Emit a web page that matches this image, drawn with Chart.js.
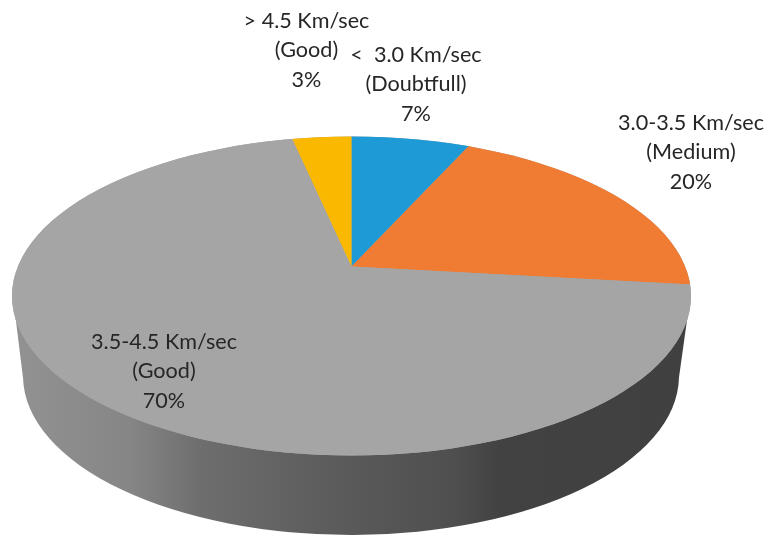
<!DOCTYPE html>
<html><head><meta charset="utf-8">
<style>html,body{margin:0;padding:0;background:#fff}#w{width:769px;height:536px;position:relative}</style>
<script src="https://cdn.jsdelivr.net/npm/chart.js@4/dist/chart.umd.min.js"></script>
</head><body><div id="w"><canvas id="c" width="769" height="536"></canvas></div>
<script>
const categories = ["< 3.0 Km/sec (Doubtfull)", "3.0-3.5 Km/sec (Medium)", "3.5-4.5 Km/sec (Good)", "> 4.5 Km/sec (Good)"];
const values = [6.8, 20, 69.8, 3.4];
const sliceColors = ["#1e9bd7", "#f07b32", "#a5a5a5", "#fbb800"];
const labelLines = [
  ["<  3.0 Km/sec", "(Doubtfull)", "7%"],
  ["3.0-3.5 Km/sec", "(Medium)", "20%"],
  ["3.5-4.5 Km/sec", "(Good)", "70%"],
  ["> 4.5 Km/sec", "(Good)", "3%"]
];
const labelCentres = [[416,55],[691,123],[164,342],[306.5,21]];
const wallStops = [[0,"#929292"],[0.17,"#858685"],[0.276,"#6e6e6e"],[0.48,"#5b5b5b"],[0.65,"#4f4f4f"],[0.72,"#424242"],[1,"#404040"]];
const topFace = {cx:351.5, cy:296, rx:339.5, ry:159.5};
const apex = {x:351.5, y:266.5};
const squash = 0.468, stretch = 2.1;

function topPath(ctx){ctx.beginPath();ctx.ellipse(topFace.cx,topFace.cy,topFace.rx,topFace.ry,0,0,Math.PI*2);}

const pie3d = {
  id:'pie3d',
  beforeDatasetsDraw(chart){
    const ctx=chart.ctx;
    ctx.save();
    const g=ctx.createLinearGradient(14,0,689,0);
    wallStops.forEach(s=>g.addColorStop(s[0],s[1]));
    ctx.fillStyle=g;
    ctx.beginPath();
    ctx.moveTo(15,313);
    ctx.lineTo(23,378);
    ctx.ellipse(351,376,328,159,0,Math.PI-0.01,0.01,true);
    ctx.lineTo(688,313);
    ctx.closePath();
    ctx.fill();
    topPath(ctx);
    ctx.fillStyle=sliceColors[2];
    ctx.fill();
    ctx.restore();
    const a=chart.getDatasetMeta(0).data[0];
    ctx.save();
    topPath(ctx);
    ctx.clip();
    ctx.translate(apex.x,apex.y);
    ctx.scale(stretch,stretch*squash);
    ctx.translate(-a.x,-a.y);
  },
  afterDatasetsDraw(chart){chart.ctx.restore();},
  afterDraw(chart){
    const ctx=chart.ctx;
    ctx.save();
    ctx.font='21.6px Lato, "Open Sans", sans-serif';
    ctx.fillStyle='#262626';
    ctx.textAlign='center';ctx.textBaseline='middle';
    labelLines.forEach((ls,i)=>ls.forEach((t,j)=>ctx.fillText(t,labelCentres[i][0],labelCentres[i][1]+j*29.5)));
    ctx.restore();
  }
};
new Chart(document.getElementById('c'),{
  type:'pie',
  data:{labels:categories,datasets:[{data:values,backgroundColor:sliceColors,borderWidth:0}]},
  options:{responsive:false,animation:false,events:[],layout:{padding:0},
    plugins:{legend:{display:false},tooltip:{enabled:false}}},
  plugins:[pie3d]
});
</script></body></html>
